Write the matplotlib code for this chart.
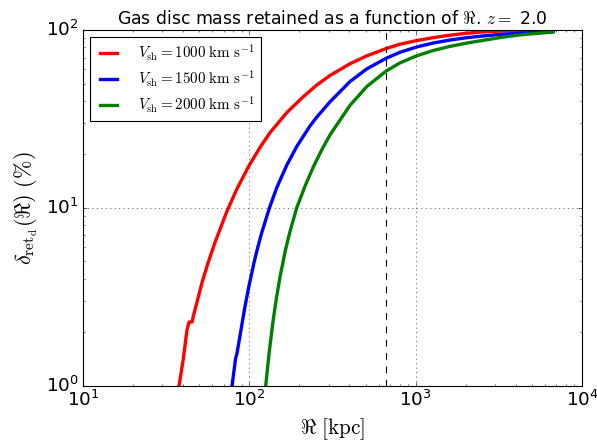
import matplotlib
matplotlib.use("Agg")
import matplotlib.pyplot as plt

plt.style.use('classic')

# Data (R in kpc, retained fraction in %)
r_1000 = [37.8, 40.0, 42.2, 43.4, 45.3, 45.9, 52.0, 53.4, 56.7, 62.2, 73.1, 84.0, 99.6, 116.0, 133.2,
          167.8, 211.2, 254.1, 305.5, 402.9, 507.6, 663, 804.4, 1014, 1276, 1607, 2025, 2549, 3211, 4236, 6683]
d_1000 = [1.0, 1.395, 2.06, 2.28, 2.28, 2.43, 3.81, 4.14, 4.96, 6.40, 9.50, 12.72, 17.28, 21.89, 26.49,
          34.3, 42.2, 49.0, 55.5, 64.6, 71.5, 78.6, 83.2, 87.2, 90.6, 93.5, 95.9, 97.6, 98.6, 99.2, 99.6]

r_1500 = [78.7, 82.0, 82.6, 84.3, 94.2, 99.6, 106.7, 111.2, 118.7, 131.9, 146.1, 167.8, 192.7, 231.6,
          254.1, 305.5, 402.9, 507.6, 663, 804.4, 1014, 1276, 1607, 2025, 2549, 3211, 4236, 6683]
d_1500 = [1.0, 1.34, 1.42, 1.52, 2.80, 3.66, 4.92, 5.77, 7.25, 9.95, 12.98, 17.36, 22.12, 28.88,
          32.35, 39.48, 51.3, 60.4, 69.3, 74.9, 80.3, 84.5, 87.8, 90.5, 92.6, 94.4, 95.9, 97.9]

r_2000 = [125.5, 131.4, 138.8, 145.0, 153.0, 165.0, 175.7, 192.7, 216.2, 242.5, 272.4, 305.5,
          402.9, 507.6, 663, 804.4, 1014, 1276, 1607, 2025, 2549, 3211, 4236, 6683]
d_2000 = [1.0, 1.52, 2.30, 3.05, 4.10, 5.81, 7.38, 10.0, 13.26, 16.98, 21.18, 25.73,
          37.7, 48.05, 58.7, 65.3, 71.6, 76.7, 80.9, 84.4, 87.5, 90.6, 93.9, 97.4]

labels = [r'$V_{\rm sh} = 1000\ {\rm km\ s^{-1}}$',
          r'$V_{\rm sh} = 1500\ {\rm km\ s^{-1}}$',
          r'$V_{\rm sh} = 2000\ {\rm km\ s^{-1}}$']
colors = ['red', 'blue', 'green']
r_vir = 664

fig = plt.figure(figsize=(597/80, 441/80), dpi=80)
ax = fig.add_axes([83/597, 1-385.7/441, (582-83)/597, (385.7-30)/441])

for r, d, lab, c in zip([r_1000, r_1500, r_2000], [d_1000, d_1500, d_2000], labels, colors):
    ax.plot(r, d, color=c, lw=3, label=lab)

ax.axvline(r_vir, color='k', ls='--', lw=1)
ax.set_xscale('log')
ax.set_yscale('log')
ax.set_xlim(10, 1e4)
ax.set_ylim(1, 100)
ax.grid(True)
ax.set_xlabel(r'$\Re\ [\mathrm{kpc}]$', fontsize=19)
ax.set_ylabel(r'$\delta_{\mathrm{ret_d}}(\Re)\ (\%)$', fontsize=20)
ax.set_title(r'Gas disc mass retained as a function of $\Re$. $z=$ 2.0', fontsize=15.5)
ax.tick_params(labelsize=16.5)
ax.legend(loc='upper left', fontsize=13.5, handlelength=1.7, handletextpad=1.1,
          labelspacing=0.33, borderpad=0.4, borderaxespad=0.45)

fig.savefig('out.png', dpi=80)
